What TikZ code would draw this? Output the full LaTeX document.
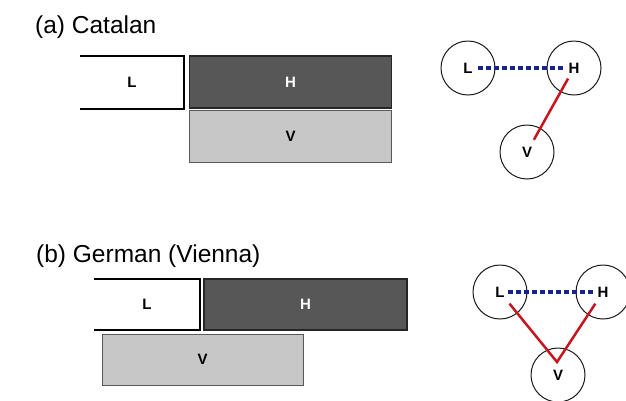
\documentclass[tikz,border=0pt]{standalone}
\usepackage{fontspec}
\setmainfont{Liberation Sans}
\usepackage{tikz}

\definecolor{hgrey}{RGB}{87,87,87}
\definecolor{vgrey}{RGB}{199,199,199}
\definecolor{tieblue}{RGB}{25,35,140}
\definecolor{linkred}{RGB}{200,20,30}

\begin{document}
\begin{tikzpicture}[x=1pt,y=-1pt]
\tikzstyle{title}=[anchor=base west,inner sep=0pt,font=\fontsize{24.5}{25}\selectfont]
\tikzstyle{seg}=[minimum height=52pt,inner sep=0pt,font=\bfseries\fontsize{15}{15}\selectfont]
\tikzstyle{high}=[seg,fill=hgrey,draw=black!85,line width=1.2pt,text=white]
\tikzstyle{voice}=[seg,fill=vgrey,draw=black!65,line width=1pt]
\tikzstyle{vertex}=[circle,draw=black!90,line width=1pt,minimum size=54pt,inner sep=0pt,font=\bfseries\fontsize{15}{15}\selectfont]
\tikzstyle{tie}=[draw=tieblue,line width=3.2pt,dash pattern=on 5pt off 3pt]
\tikzstyle{link}=[draw=linkred,line width=2.5pt]
\useasboundingbox (0,0) rectangle (626,400);

% (a) Catalan
\node[title] (A_title) at (35,33) {(a) Catalan};
\node[seg,minimum width=104pt] (A_Lbox) at (132,82.5) {L};
\draw[line width=2pt] (A_Lbox.north west) -- (A_Lbox.north east) -- (A_Lbox.south east) -- (A_Lbox.south west);
\node[high,minimum width=202pt] (A_Hbox) at (290.5,82) {H};
\node[voice,minimum width=202pt] (A_Vbox) at (290.5,136.5) {V};

\node[vertex] (A_L) at (468,68) {L};
\node[vertex] (A_H) at (574,68) {H};
\node[vertex] (A_V) at (527,152) {V};
\draw[tie,shorten <=10pt,shorten >=11pt] (A_L.center) -- (A_H.center);
\draw[link,shorten <=12pt,shorten >=14pt] (A_H.center) -- (A_V.center);

% (b) German (Vienna)
\node[title] (B_title) at (36,262) {(b) German (Vienna)};
\node[seg,minimum width=106pt,minimum height=51pt] (B_Lbox) at (147,304.5) {L};
\draw[line width=2pt] (B_Lbox.north west) -- (B_Lbox.north east) -- (B_Lbox.south east) -- (B_Lbox.south west);
\node[high,minimum width=203pt,minimum height=51pt] (B_Hbox) at (305.5,304.5) {H};
\node[voice,minimum width=201pt,minimum height=51pt] (B_Vbox) at (202.5,359.5) {V};

\node[vertex] (B_L) at (500,292) {L};
\node[vertex] (B_H) at (603,292) {H};
\node[vertex] (B_V) at (558,375) {V};
\coordinate (B_J) at (557,362);
\draw[tie,shorten <=8pt,shorten >=8pt] (B_L.center) -- (B_H.center);
\draw[link,line join=miter,shorten <=15pt,shorten >=14pt] (B_L.center) -- (B_J) -- (B_H.center);
\end{tikzpicture}
\end{document}
